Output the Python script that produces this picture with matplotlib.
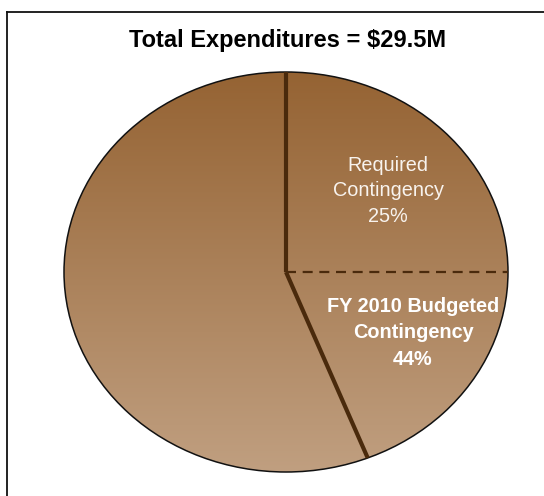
import numpy as np
import matplotlib
matplotlib.use("Agg")
import matplotlib.pyplot as plt
from matplotlib.patches import Circle
from matplotlib.lines import Line2D

# Contingency shares of total expenditures (cumulative from 12 o'clock)
title = "Total Expenditures = $29.5M"
required_share = 25      # Required Contingency, %
budgeted_share = 44      # FY 2010 Budgeted Contingency, % (includes required)
labels = ["Required\nContingency\n25%", "FY 2010 Budgeted\nContingency\n44%"]

wedge_sizes = [required_share, budgeted_share - required_share, 100 - budgeted_share]

W, H = 544, 496
fig = plt.figure(figsize=(W / 100, H / 100), dpi=100)
fig.patch.set_facecolor("white")

# frame around the graphic
fig.add_artist(Line2D([7 / W, 1.0], [1 - 12 / H, 1 - 12 / H], color="#111111", lw=1.3,
                      transform=fig.transFigure))
fig.add_artist(Line2D([7 / W, 7 / W], [0.0, 1 - 12 / H], color="#111111", lw=1.3,
                      transform=fig.transFigure))

# pie axes stretched so the pie is a slightly wide ellipse
left, right, top, bottom = 64, 508, 72, 472
ax = fig.add_axes([left / W, (H - bottom) / H, (right - left) / W, (bottom - top) / H])

wedges, _ = ax.pie(wedge_sizes, startangle=90, counterclock=False, radius=1,
                   wedgeprops=dict(facecolor="none", edgecolor="none", linewidth=0))

# vertical brown gradient fill inside each wedge
top_col = np.array([0x95, 0x63, 0x33]) / 255
bot_col = np.array([0xc0, 0x9f, 0x80]) / 255
t = np.linspace(0, 1, 256)[:, None, None]
grad = top_col[None, None, :] * (1 - t) + bot_col[None, None, :] * t
for w in wedges:
    im = ax.imshow(grad, extent=(-1, 1, -1, 1), origin="upper", aspect="auto",
                   interpolation="bilinear", zorder=1)
    im.set_clip_path(w)
ax.set_xlim(-1, 1)
ax.set_ylim(-1, 1)
ax.set_aspect("auto")
ax.axis("off")

# outline of the pie
ax.add_patch(Circle((0, 0), 1, facecolor="none", edgecolor="#111111", lw=1.1,
                    zorder=3, clip_on=False))

# radial separators: solid at start and end of budgeted contingency, dashed between
line_col = "#4a2a0c"
cum = np.cumsum([0] + wedge_sizes[:-1])
for i, c in enumerate(cum):
    ang = np.deg2rad(90 - 360 * c / 100)
    xs, ys = [0, np.cos(ang)], [0, np.sin(ang)]
    if i == 1:
        ax.plot(xs, ys, color=line_col, lw=1.6, ls=(0, (4.5, 3)), zorder=4,
                solid_capstyle="butt", clip_on=False)
    else:
        ax.plot(xs, ys, color=line_col, lw=3.0, zorder=5, solid_capstyle="butt",
                clip_on=False)

fig.text(288 / W, 1 - 41 / H, title, ha="center", va="center", fontsize=17,
         fontweight="bold", family="Liberation Sans", color="black", zorder=10)

fig.text(388 / W, 1 - 191 / H, labels[0], ha="center", va="center", fontsize=14.3,
         family="Liberation Sans", color="#f8f3ee", linespacing=1.45, zorder=10)
fig.text(413 / W, 1 - 333 / H, labels[1], ha="center", va="center", fontsize=14.3,
         fontweight="bold", family="Liberation Sans", color="white", linespacing=1.52,
         zorder=10)

fig.savefig("out.png", dpi=100, facecolor="white")
